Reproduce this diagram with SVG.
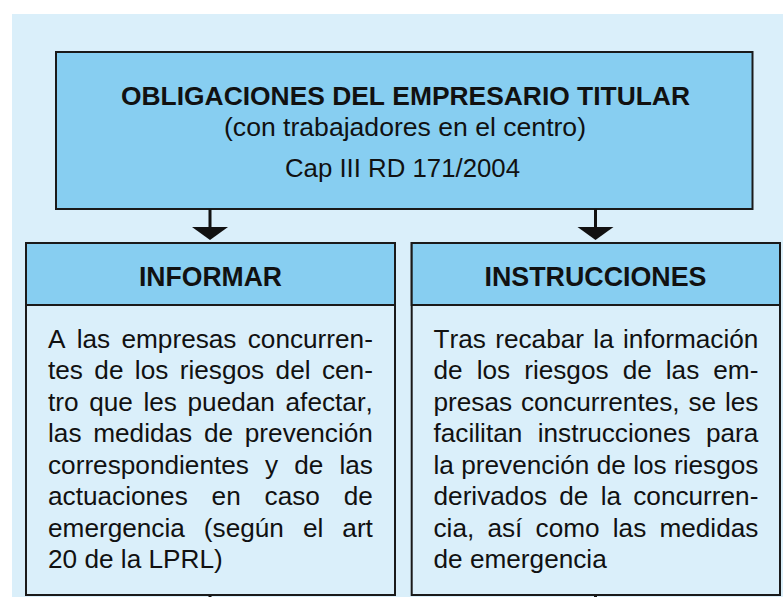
<svg xmlns="http://www.w3.org/2000/svg" width="783" height="597" viewBox="0 0 783 597">
<style>
.box{stroke:#1a1a1a;stroke-width:2}
.dark{fill:#87CEF1}
.light{fill:#DAEFFA}
text{font-family:"Liberation Sans",Arial,Helvetica,sans-serif;fill:#111;font-kerning:none}
.t{font-weight:bold;font-size:25px;text-anchor:middle}
.s{font-size:25px;text-anchor:middle}
.h{font-weight:bold;font-size:27px;text-anchor:middle}
.b{font-size:26.2px}
.ar{stroke:#111;stroke-width:3;fill:none}
</style>
<rect x="12" y="14" width="771" height="583" class="light"/>
<g id="main">
<rect x="56" y="52" width="696.5" height="157" class="box dark"/>
<text class="t" x="405.5" y="104.5" textLength="569" lengthAdjust="spacingAndGlyphs">OBLIGACIONES DEL EMPRESARIO TITULAR</text>
<text class="s" x="405" y="136" textLength="362" lengthAdjust="spacingAndGlyphs">(con trabajadores en el centro)</text>
<text class="s" x="402.5" y="177.3" textLength="235" lengthAdjust="spacingAndGlyphs">Cap III RD 171/2004</text>
</g>
<g id="connectors">
<line x1="210" y1="209" x2="210" y2="229" class="ar"/>
<polygon points="192,227 228,227 210,240" fill="#111"/>
<line x1="595.5" y1="209" x2="595.5" y2="229" class="ar"/>
<polygon points="577.5,227 613.5,227 595.5,240" fill="#111"/>
<line x1="210" y1="595" x2="210" y2="597" class="ar"/>
<line x1="595.5" y1="595" x2="595.5" y2="597" class="ar"/>
</g>
<g id="informar">
<rect x="26" y="243" width="369" height="352" class="box light"/>
<rect x="26" y="243" width="369" height="62" class="box dark"/>
<text class="h" x="210.5" y="285.5" textLength="143" lengthAdjust="spacingAndGlyphs">INFORMAR</text>
<text class="b" x="48" y="348" word-spacing="3.99">A las empresas concurren-</text>
<text class="b" x="48" y="379.4" word-spacing="4.13">tes de los riesgos del cen-</text>
<text class="b" x="48" y="410.9" word-spacing="3.33">tro que les puedan afectar,</text>
<text class="b" x="48" y="442.3" word-spacing="4.46">las medidas de prevención</text>
<text class="b" x="48" y="473.7" word-spacing="8.83">correspondientes y de las</text>
<text class="b" x="48" y="505.1" word-spacing="16.58">actuaciones en caso de</text>
<text class="b" x="48" y="536.6" word-spacing="11.74">emergencia (según el art</text>
<text class="b" x="48" y="568">20 de la LPRL)</text>
</g>
<g id="instrucciones">
<rect x="411.7" y="243" width="368.3" height="352" class="box light"/>
<rect x="411.7" y="243" width="368.3" height="62" class="box dark"/>
<text class="h" x="595.5" y="285.5" textLength="222" lengthAdjust="spacingAndGlyphs">INSTRUCCIONES</text>
<text class="b" x="433.5" y="348" word-spacing="2.05">Tras recabar la información</text>
<text class="b" x="433.5" y="379.4" word-spacing="6.76">de los riesgos de las em-</text>
<text class="b" x="433.5" y="410.9" word-spacing="1.55">presas concurrentes, se les</text>
<text class="b" x="433.5" y="442.3" word-spacing="8.16">facilitan instrucciones para</text>
<text class="b" x="433.5" y="473.7" word-spacing="0.07">la prevención de los riesgos</text>
<text class="b" x="433.5" y="505.1" word-spacing="4.95">derivados de la concurren-</text>
<text class="b" x="433.5" y="536.6" word-spacing="5.9">cia, así como las medidas</text>
<text class="b" x="433.5" y="568">de emergencia</text>
</g>
</svg>
